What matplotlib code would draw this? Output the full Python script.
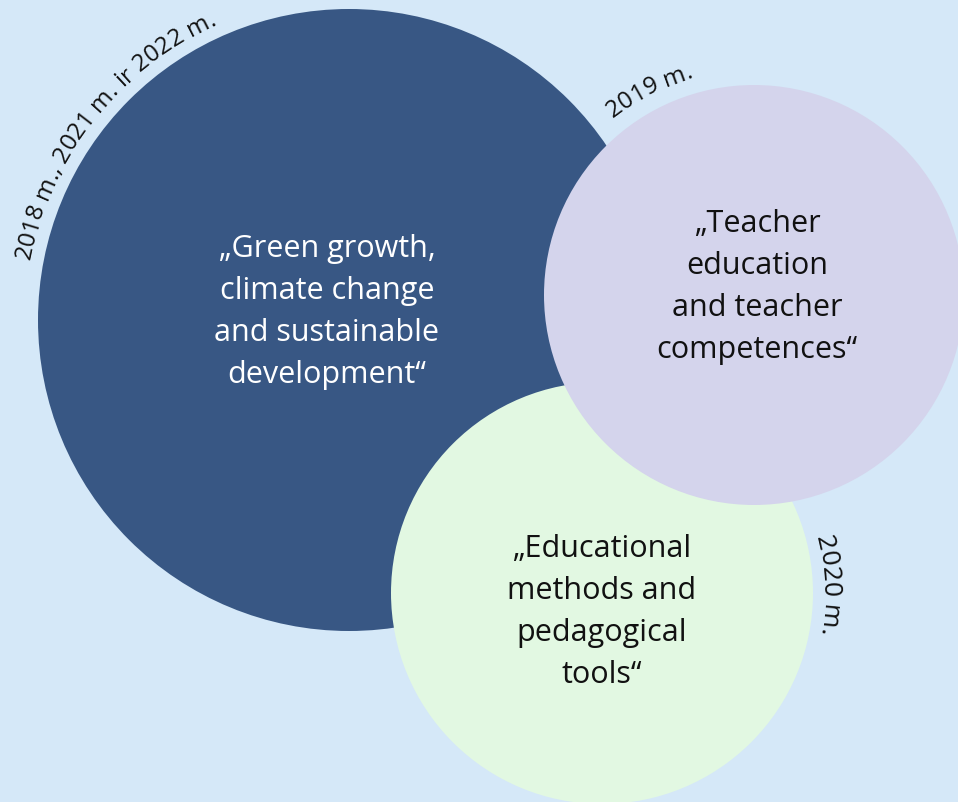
import numpy as np
import matplotlib
matplotlib.use('Agg')
import matplotlib.pyplot as plt
from matplotlib.patches import Circle
from matplotlib import font_manager
from matplotlib.ft2font import FT2Font

FAMILY = 'Open Sans'
W, H, DPI = 958, 803, 100

# bubbles: topic, year label, centre (px), radius (px)
topics = [
    '„Green growth,\nclimate change\nand sustainable\ndevelopment“',
    '„Educational\nmethods and\npedagogical\ntools“',
    '„Teacher\neducation\nand teacher\ncompetences“',
]
years = ['2018 m., 2021 m. ir 2022 m.', '2020 m.', '2019 m.']
centres = [(349, 321), (602, 594), (754, 296)]
radii = [311, 211, 210]
fills = ['#385784', '#E2F8E2', '#D4D4EC']
text_colors = ['white', '#111111', '#111111']
text_pos = [(327, 312), (602, 612), (757, 287)]
# where each year label starts on its circle (deg, going clockwise), gap, size
year_start = [169.2, 14.8, 128.4]
year_gap = [14, 10, 17]
year_size = [17.5, 19, 17.5]

BG = '#D5E8F8'

fig = plt.figure(figsize=(W / DPI, H / DPI), dpi=DPI)
fig.patch.set_facecolor(BG)
ax = fig.add_axes([0, 0, 1, 1])
ax.set_xlim(0, W)
ax.set_ylim(H, 0)
ax.set_aspect('equal')
ax.axis('off')

fpath = font_manager.findfont(font_manager.FontProperties(family=FAMILY))


def advances(s, size_pt):
    font = FT2Font(fpath)
    font.set_size(size_pt, DPI)
    return [font.load_char(ord(c)).linearHoriAdvance / 65536 for c in s]


def arc_text(s, cx, cy, r, start_deg, size_pt):
    adv = advances(s, size_pt)
    pos = 0.0
    for c, a in zip(s, adv):
        mid = pos + a / 2
        th = np.radians(start_deg) - mid / r
        x = cx + r * np.cos(th)
        y = cy - r * np.sin(th)
        ax.text(x, y, c, family=FAMILY, fontsize=size_pt, color='#111111',
                rotation=np.degrees(th) - 90, rotation_mode='anchor',
                ha='center', va='baseline')
        pos += a


for (cx, cy), r, col in zip(centres, radii, fills):
    ax.add_patch(Circle((cx, cy), r, facecolor=col, edgecolor='none'))

for label, (tx, ty), tc in zip(topics, text_pos, text_colors):
    ax.text(tx, ty, label, family=FAMILY, fontsize=22, color=tc,
            ha='center', va='center', multialignment='center', linespacing=1.53)

for yr, (cx, cy), r, st, gap, sz in zip(years, centres, radii, year_start,
                                        year_gap, year_size):
    arc_text(yr, cx, cy, r + gap, st, sz)

fig.savefig('out.png', dpi=DPI, facecolor=BG)
